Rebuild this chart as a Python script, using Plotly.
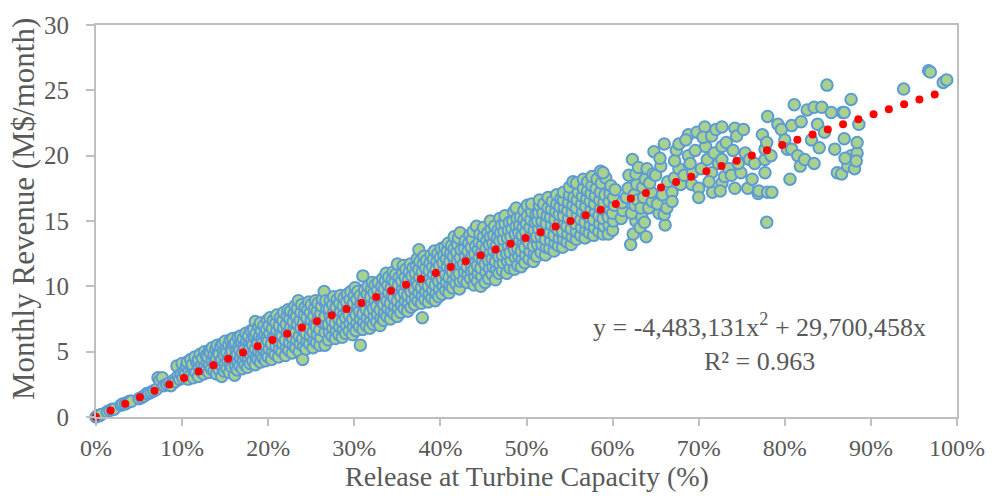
import numpy as np
import plotly.graph_objects as go

# Monthly revenue (M$/month) against release at turbine capacity (%), grouped by capacity range.
points_00_10 = [
    (0.0, 0.0), (0.2, 0.1), (0.4, 0.1), (0.6, 0.2), (1.3, 0.4), (1.6, 0.5), (1.9, 0.6), (2.1, 0.6),
    (2.9, 0.9), (3.1, 1.0), (3.4, 1.0), (3.6, 1.1), (3.9, 1.2), (4.1, 1.2),
    (5.0, 1.4), (5.3, 1.5), (5.6, 1.6), (5.9, 1.8), (6.1, 1.8), (6.4, 1.9), (6.7, 2.0), (7.0, 2.1),
    (7.2, 3.0), (7.4, 2.8), (7.7, 3.0), (7.9, 2.4), (8.2, 2.5), (8.5, 2.6), (8.7, 2.4), (9.0, 2.8),
    (9.2, 2.7), (9.4, 3.9), (9.5, 3.1), (9.7, 2.9), (9.9, 3.3),
]

points_10_20 = [
    (10.1, 3.0), (10.2, 3.6), (10.0, 4.1), (10.4, 3.3), (10.5, 3.9), (10.7, 2.9), (10.8, 3.5), (10.6, 4.2),
    (11.0, 3.2), (11.1, 3.8), (11.0, 4.4), (11.3, 3.0), (11.4, 3.6), (11.2, 4.0), (11.6, 3.4), (11.7, 4.2), (11.5, 4.6),
    (11.9, 3.1), (12.0, 3.8), (11.9, 4.4), (12.2, 3.5), (12.3, 4.0), (12.1, 4.8),
    (12.5, 3.3), (12.6, 3.9), (12.4, 4.5), (12.6, 5.0), (12.8, 3.6), (12.9, 4.2), (12.8, 4.7),
    (13.1, 3.4), (13.2, 4.0), (13.0, 4.6), (13.2, 5.1), (13.4, 3.7), (13.5, 4.3), (13.3, 4.9), (13.5, 5.3),
    (13.7, 3.5), (13.8, 4.1), (13.7, 4.7), (13.9, 5.2), (14.0, 3.3), (14.1, 3.9), (14.0, 4.5), (14.2, 5.0), (14.1, 5.5),
    (14.3, 3.6), (14.4, 4.2), (14.3, 4.8), (14.5, 5.4), (14.6, 3.1), (14.7, 3.8), (14.6, 4.4), (14.8, 5.0), (14.7, 5.6),
    (14.9, 3.5), (15.0, 4.1), (14.9, 4.7), (15.1, 5.3), (15.0, 5.8), (15.2, 3.7), (15.3, 4.3), (15.2, 4.9), (15.4, 5.5),
    (15.5, 3.4), (15.6, 4.0), (15.5, 4.6), (15.7, 5.2), (15.6, 5.9), (15.8, 3.8), (15.9, 4.4), (15.8, 5.0), (16.0, 5.6), (15.9, 6.0),
    (16.1, 3.2), (16.2, 3.9), (16.1, 4.5), (16.3, 5.1), (16.2, 5.7), (16.4, 3.6), (16.5, 4.2), (16.4, 4.8), (16.6, 5.4), (16.5, 6.1),
    (16.7, 3.9), (16.8, 4.5), (16.7, 5.1), (16.9, 5.7), (16.8, 6.2), (17.0, 3.7), (17.1, 4.3), (17.0, 4.9), (17.2, 5.5), (17.1, 6.0),
    (17.3, 4.0), (17.4, 4.6), (17.3, 5.2), (17.5, 5.8), (17.4, 6.4), (17.6, 3.8), (17.7, 4.4), (17.6, 5.0), (17.8, 5.6), (17.7, 6.2),
    (17.9, 4.1), (18.0, 4.7), (17.9, 5.3), (18.1, 5.9), (18.0, 6.6), (18.2, 4.3), (18.3, 4.9), (18.2, 5.5), (18.4, 6.1), (18.3, 6.7),
    (18.5, 4.0), (18.6, 4.6), (18.5, 5.2), (18.7, 5.8), (18.6, 6.4), (18.5, 7.3), (18.8, 4.4), (18.9, 5.0), (18.8, 5.6), (19.0, 6.2), (18.9, 6.9),
    (19.1, 4.2), (19.2, 4.8), (19.1, 5.4), (19.3, 6.0), (19.2, 6.6), (19.1, 7.2), (19.4, 4.5), (19.5, 5.1), (19.4, 5.7), (19.6, 6.3), (19.5, 7.0),
    (19.7, 4.3), (19.8, 4.9), (19.7, 5.5), (19.9, 6.1), (19.8, 6.7), (19.9, 7.4),
]

points_20_30 = [
    (20.0, 4.6), (20.1, 5.2), (20.0, 5.8), (20.2, 6.4), (20.1, 7.0), (20.2, 7.6),
    (20.4, 4.4), (20.5, 5.0), (20.4, 5.6), (20.6, 6.2), (20.5, 6.8), (20.6, 7.4),
    (20.8, 4.8), (20.9, 5.4), (20.8, 6.0), (21.0, 6.6), (20.9, 7.2), (21.0, 7.8),
    (21.2, 4.6), (21.3, 5.2), (21.2, 5.8), (21.4, 6.4), (21.3, 7.0), (21.4, 7.6),
    (21.6, 5.0), (21.7, 5.6), (21.6, 6.2), (21.8, 6.8), (21.7, 7.4), (21.8, 8.0),
    (22.0, 4.7), (22.1, 5.3), (22.0, 5.9), (22.2, 6.5), (22.1, 7.1), (22.2, 7.7), (22.3, 8.2),
    (22.4, 5.1), (22.5, 5.7), (22.4, 6.3), (22.6, 6.9), (22.5, 7.5), (22.6, 8.1),
    (22.8, 4.9), (22.9, 5.5), (22.8, 6.1), (23.0, 6.7), (22.9, 7.3), (23.0, 7.9), (23.1, 8.5),
    (23.2, 5.3), (23.3, 5.9), (23.2, 6.5), (23.4, 7.1), (23.3, 7.7), (23.4, 8.3), (23.5, 8.9),
    (23.6, 5.0), (23.7, 5.6), (23.6, 6.2), (23.8, 6.8), (23.7, 7.4), (23.8, 8.0), (23.9, 8.6),
    (24.0, 4.4), (24.1, 5.4), (24.0, 6.0), (24.2, 6.6), (24.1, 7.2), (24.2, 7.8), (24.3, 8.4),
    (24.4, 5.2), (24.5, 5.8), (24.4, 6.4), (24.6, 7.0), (24.5, 7.6), (24.6, 8.2), (24.7, 8.8),
    (24.8, 5.6), (24.9, 6.2), (24.8, 6.8), (25.0, 7.4), (24.9, 8.0), (25.0, 8.6),
    (25.2, 5.3), (25.3, 5.9), (25.2, 6.5), (25.4, 7.1), (25.3, 7.7), (25.4, 8.3), (25.5, 8.9),
    (25.6, 5.7), (25.7, 6.3), (25.6, 6.9), (25.8, 7.5), (25.7, 8.1), (25.8, 8.7),
    (26.0, 5.5), (26.1, 6.1), (26.0, 6.7), (26.2, 7.3), (26.1, 7.9), (26.2, 8.5), (26.3, 9.0),
    (26.5, 9.6), (26.6, 5.5),
    (26.6, 6.5), (26.7, 7.1), (26.6, 7.7), (26.8, 8.3), (26.7, 8.9),
    (27.0, 5.9), (27.1, 6.5), (27.0, 7.1), (27.2, 7.7), (27.1, 8.3), (27.2, 8.9),
    (27.4, 6.2), (27.5, 6.8), (27.4, 7.4), (27.6, 8.0), (27.5, 8.6), (27.6, 9.2),
    (27.8, 6.0), (27.9, 6.6), (27.8, 7.2), (28.0, 7.8), (27.9, 8.4), (28.0, 9.0),
    (28.2, 6.3), (28.3, 6.9), (28.2, 7.5), (28.4, 8.1), (28.3, 8.7), (28.4, 9.3),
    (28.6, 6.1), (28.7, 6.7), (28.6, 7.3), (28.8, 7.9), (28.7, 8.5), (28.8, 9.1),
    (29.0, 6.4), (29.1, 7.0), (29.0, 7.6), (29.2, 8.2), (29.1, 8.8), (29.2, 9.4),
    (29.4, 6.6), (29.5, 7.2), (29.4, 7.8), (29.6, 8.4), (29.5, 9.0), (29.6, 9.6),
    (29.8, 6.3), (29.9, 6.9), (29.8, 7.5), (30.0, 8.1), (29.9, 8.7), (30.0, 9.3), (30.1, 9.9),
]

points_30_40 = [
    (30.2, 6.6), (30.3, 7.2), (30.2, 7.8), (30.4, 8.4), (30.3, 9.0), (30.4, 9.6),
    (30.7, 5.5), (30.6, 6.9), (30.7, 7.5), (30.6, 8.1), (30.8, 8.7), (30.7, 9.3), (31.0, 10.8),
    (31.0, 6.7), (31.1, 7.3), (31.0, 7.9), (31.2, 8.5), (31.1, 9.1), (31.2, 9.7),
    (31.4, 7.0), (31.5, 7.6), (31.4, 8.2), (31.6, 8.8), (31.5, 9.4), (31.6, 10.0),
    (31.8, 6.8), (31.9, 7.4), (31.8, 8.0), (32.0, 8.6), (31.9, 9.2), (32.0, 9.8), (32.1, 10.3),
    (32.2, 7.1), (32.3, 7.7), (32.2, 8.3), (32.4, 8.9), (32.3, 9.5), (32.4, 10.1),
    (32.6, 7.3), (32.7, 7.9), (32.6, 8.5), (32.8, 9.1), (32.7, 9.7), (32.8, 10.3),
    (33.0, 7.0), (33.1, 7.6), (33.0, 8.2), (33.2, 8.8), (33.1, 9.4), (33.2, 10.0), (33.3, 10.6),
    (33.4, 7.4), (33.5, 8.0), (33.4, 8.6), (33.6, 9.2), (33.5, 9.8), (33.6, 10.4), (33.7, 11.0),
    (33.8, 7.7), (33.9, 8.3), (33.8, 8.9), (34.0, 9.5), (33.9, 10.1), (34.0, 10.7),
    (34.2, 7.5), (34.3, 8.1), (34.2, 8.7), (34.4, 9.3), (34.3, 9.9), (34.4, 10.5), (34.5, 11.1),
    (34.6, 7.9), (34.7, 8.5), (34.6, 9.1), (34.8, 9.7), (34.7, 10.3), (34.8, 10.9),
    (35.0, 7.7), (35.1, 8.3), (35.0, 8.9), (35.2, 9.5), (35.1, 10.1), (35.2, 10.7), (35.0, 11.7),
    (35.4, 8.0), (35.5, 8.6), (35.4, 9.2), (35.6, 9.8), (35.5, 10.4), (35.6, 11.0), (35.7, 11.6),
    (35.8, 8.3), (35.9, 8.9), (35.8, 9.5), (36.0, 10.1), (35.9, 10.7), (36.0, 11.3),
    (36.2, 8.1), (36.3, 8.7), (36.2, 9.3), (36.4, 9.9), (36.3, 10.5), (36.4, 11.1), (36.5, 11.7),
    (36.6, 8.4), (36.7, 9.0), (36.6, 9.6), (36.8, 10.2), (36.7, 10.8), (36.8, 11.4),
    (37.0, 8.6), (37.1, 9.2), (37.0, 9.8), (37.2, 10.4), (37.1, 11.0), (37.2, 11.6), (37.3, 12.1),
    (37.5, 12.8), (37.9, 7.6),
    (37.4, 8.9), (37.5, 9.5), (37.4, 10.1), (37.6, 10.7), (37.5, 11.3), (37.6, 11.9),
    (37.8, 8.7), (37.9, 9.3), (37.8, 9.9), (38.0, 10.5), (37.9, 11.1), (38.0, 11.7), (38.1, 12.3),
    (38.2, 9.0), (38.3, 9.6), (38.2, 10.2), (38.4, 10.8), (38.3, 11.4), (38.4, 12.0),
    (38.6, 8.8), (38.7, 9.4), (38.6, 10.0), (38.8, 10.6), (38.7, 11.2), (38.8, 11.8), (38.9, 12.4),
    (39.0, 9.1), (39.1, 9.7), (39.0, 10.3), (39.2, 10.9), (39.1, 11.5), (39.2, 12.1), (39.3, 12.7),
    (39.4, 8.9), (39.5, 9.5), (39.4, 10.1), (39.6, 10.7), (39.5, 11.3), (39.6, 11.9), (39.7, 12.5),
    (39.8, 9.2), (39.9, 9.8), (39.8, 10.4), (40.0, 11.0), (39.9, 11.6), (40.0, 12.2), (40.1, 12.9),
]

points_40_50 = [
    (40.2, 9.4), (40.3, 10.0), (40.2, 10.6), (40.4, 11.2), (40.3, 11.8), (40.4, 12.4), (40.5, 13.0),
    (40.6, 9.7), (40.7, 10.3), (40.6, 10.9), (40.8, 11.5), (40.7, 12.1), (40.8, 12.7), (40.9, 13.3),
    (41.0, 9.5), (41.1, 10.1), (41.0, 10.7), (41.2, 11.3), (41.1, 11.9), (41.2, 12.5), (41.3, 13.1),
    (41.4, 9.9), (41.5, 10.5), (41.4, 11.1), (41.6, 11.7), (41.5, 12.3), (41.6, 12.9), (41.6, 13.8),
    (41.8, 10.2), (41.9, 10.8), (41.8, 11.4), (42.0, 12.0), (41.9, 12.6), (42.0, 13.2), (42.1, 13.7),
    (42.2, 9.8), (42.3, 10.4), (42.2, 11.0), (42.4, 11.6), (42.3, 12.2), (42.4, 12.8), (42.3, 14.1),
    (42.7, 10.5), (42.8, 11.1), (42.7, 11.7), (42.9, 12.3), (42.8, 12.9), (42.9, 13.5),
    (43.1, 10.3), (43.2, 10.9), (43.1, 11.5), (43.3, 12.1), (43.2, 12.7), (43.3, 13.3), (43.4, 13.9),
    (43.5, 10.6), (43.6, 11.2), (43.5, 11.8), (43.7, 12.4), (43.6, 13.0), (43.7, 13.6), (43.8, 14.2),
    (43.9, 10.1), (44.0, 10.7), (43.9, 11.3), (44.1, 11.9), (44.0, 12.5), (44.1, 13.1), (44.2, 14.6),
    (44.3, 10.4), (44.4, 11.0), (44.3, 11.6), (44.5, 12.2), (44.4, 12.8), (44.5, 13.4), (44.6, 14.0),
    (44.7, 10.0), (44.8, 10.8), (44.7, 11.4), (44.9, 12.0), (44.8, 12.6), (44.9, 13.2), (45.0, 13.8), (45.0, 14.5),
    (45.2, 10.3), (45.3, 11.1), (45.2, 11.7), (45.4, 12.3), (45.3, 12.9), (45.4, 13.5), (45.5, 14.1),
    (45.6, 10.6), (45.7, 11.4), (45.6, 12.0), (45.8, 12.6), (45.7, 13.2), (45.8, 13.8), (45.9, 14.4), (45.8, 15.0),
    (46.0, 10.9), (46.1, 11.5), (46.0, 12.1), (46.2, 12.7), (46.1, 13.3), (46.2, 13.9), (46.3, 14.6),
    (46.4, 10.5), (46.5, 11.3), (46.4, 11.9), (46.6, 12.5), (46.5, 13.1), (46.6, 13.7), (46.7, 14.3), (46.9, 15.2),
    (46.8, 11.0), (46.9, 11.7), (46.8, 12.3), (47.0, 12.9), (46.9, 13.5), (47.0, 14.1), (47.1, 14.7),
    (47.2, 11.2), (47.3, 11.8), (47.2, 12.4), (47.4, 13.0), (47.3, 13.6), (47.4, 14.2), (47.5, 14.8), (47.5, 15.4),
    (47.7, 11.0), (47.8, 11.9), (47.7, 12.5), (47.9, 13.1), (47.8, 13.7), (47.9, 14.3), (48.0, 14.9),
    (48.1, 11.4), (48.2, 12.0), (48.1, 12.6), (48.3, 13.2), (48.2, 13.8), (48.3, 14.4), (48.4, 15.0), (48.5, 15.7),
    (48.6, 11.3), (48.7, 12.2), (48.6, 12.8), (48.8, 13.4), (48.7, 14.0), (48.8, 14.6), (48.9, 15.2), (48.8, 16.0),
    (49.0, 11.6), (49.1, 12.3), (49.0, 12.9), (49.2, 13.5), (49.1, 14.1), (49.2, 14.7), (49.3, 15.3),
    (49.4, 11.5), (49.5, 12.1), (49.4, 12.7), (49.6, 13.3), (49.5, 13.9), (49.6, 14.5), (49.7, 15.1), (49.7, 15.8),
    (49.8, 11.8), (49.9, 12.4), (49.8, 13.0), (50.0, 13.6), (49.9, 14.2), (50.0, 14.8), (50.1, 15.4), (50.1, 16.2),
]

points_50_60 = [
    (50.3, 12.1), (50.4, 12.7), (50.3, 13.3), (50.5, 13.9), (50.4, 14.5), (50.5, 15.1), (50.6, 15.7), (50.6, 16.3),
    (50.8, 11.9), (50.9, 12.5), (50.8, 13.1), (51.0, 13.7), (50.9, 14.3), (51.0, 14.9), (51.1, 15.5),
    (51.2, 12.3), (51.3, 13.2), (51.2, 13.8), (51.4, 14.4), (51.3, 15.0), (51.4, 15.6), (51.5, 16.2), (51.5, 16.6),
    (51.7, 12.6), (51.8, 13.2), (51.7, 13.8), (51.9, 14.4), (51.8, 15.0), (51.9, 15.6), (52.0, 16.3),
    (52.2, 12.4), (52.3, 13.0), (52.2, 13.6), (52.4, 14.2), (52.3, 14.8), (52.4, 15.4), (52.5, 16.0), (52.5, 16.8),
    (52.7, 12.9), (52.8, 13.5), (52.7, 14.1), (52.9, 14.7), (52.8, 15.3), (52.9, 15.9), (53.0, 16.5),
    (53.2, 12.7), (53.3, 13.3), (53.2, 13.9), (53.4, 14.5), (53.3, 15.1), (53.4, 15.7), (53.5, 16.3), (53.5, 17.0),
    (53.7, 13.1), (53.8, 13.7), (53.7, 14.3), (53.9, 14.9), (53.8, 15.5), (53.9, 16.1), (54.0, 16.7),
    (54.2, 13.0), (54.3, 13.6), (54.2, 14.2), (54.4, 14.8), (54.3, 15.4), (54.4, 16.0), (54.3, 16.6), (54.3, 17.2),
    (54.7, 13.4), (54.8, 14.0), (54.7, 14.6), (54.9, 15.2), (54.8, 15.8), (54.9, 16.4), (55.0, 17.0), (55.0, 17.6),
    (55.2, 13.2), (55.3, 13.8), (55.2, 14.4), (55.4, 15.0), (55.3, 15.6), (55.4, 16.2), (55.5, 16.8), (55.4, 18.0),
    (55.8, 13.6), (55.8, 14.2), (55.7, 14.8), (55.9, 15.4), (55.8, 16.0), (55.9, 16.6), (56.0, 17.2), (55.8, 17.9),
    (56.3, 13.9), (56.4, 14.5), (56.3, 15.1), (56.5, 15.7), (56.4, 16.3), (56.5, 16.9), (56.6, 17.5), (56.6, 18.2),
    (56.8, 13.7), (56.9, 14.3), (56.8, 14.9), (57.0, 15.5), (56.9, 16.1), (57.0, 16.7), (57.1, 17.3), (57.1, 18.0),
    (57.3, 14.1), (57.4, 14.7), (57.3, 15.3), (57.5, 15.9), (57.4, 16.5), (57.5, 17.1), (57.6, 17.7), (57.6, 18.4),
    (57.8, 13.9), (57.9, 14.5), (57.8, 15.1), (58.0, 15.7), (57.9, 16.3), (58.0, 16.9), (58.1, 17.5), (58.2, 18.2),
    (58.4, 14.2), (58.5, 14.8), (58.4, 15.4), (58.6, 16.0), (58.5, 16.6), (58.6, 17.2), (58.6, 18.8), (58.7, 17.9),
    (58.9, 14.0), (59.0, 14.6), (58.9, 15.2), (59.1, 15.8), (59.0, 16.4), (59.1, 17.0), (59.2, 18.3), (58.9, 18.7),
    (59.5, 14.0), (59.6, 14.7), (59.5, 15.3), (59.7, 15.9), (59.6, 16.5), (59.7, 17.1), (59.8, 17.7),
    (60.0, 14.3), (60.1, 15.0), (60.0, 15.6), (60.2, 16.2), (60.1, 16.8), (60.3, 17.4),
]

points_60_73 = [
    (61.0, 15.2), (61.2, 15.8), (61.1, 16.4),
    (61.6, 16.8), (61.9, 18.5), (62.3, 19.7), (61.8, 17.5), (62.1, 13.2), (62.4, 14.0), (62.7, 15.0),
    (62.2, 15.6), (62.6, 16.2), (62.5, 17.0), (62.8, 17.8), (62.7, 18.6), (63.0, 19.1), (62.9, 16.6),
    (63.2, 14.5), (63.4, 15.3), (63.3, 16.0), (63.6, 16.8), (63.5, 17.6), (63.9, 13.8), (63.8, 18.2),
    (64.0, 19.0), (63.7, 14.9),
    (64.2, 16.0), (64.6, 16.5), (64.5, 17.2), (64.3, 17.9), (64.8, 20.3), (64.7, 18.6), (65.0, 18.5),
    (65.4, 15.6), (65.2, 16.3), (65.8, 17.0), (65.6, 19.2), (65.5, 19.8), (66.1, 14.7), (66.0, 15.5),
    (66.0, 20.9), (66.4, 18.0), (66.3, 16.0),
    (66.9, 17.2), (66.9, 16.5), (67.2, 18.3), (67.7, 19.0), (67.4, 20.4), (67.7, 20.9), (67.2, 19.6), (67.9, 17.8),
    (68.3, 18.5), (68.8, 20.0), (68.8, 21.6), (68.5, 21.2), (69.3, 18.7), (69.2, 17.8), (69.0, 19.4),
    (69.6, 20.4), (69.8, 21.8),
    (70.0, 17.5), (70.0, 16.8), (70.3, 19.0), (70.8, 20.7), (70.7, 22.2), (70.5, 21.4), (71.0, 19.7),
    (71.5, 18.7), (71.6, 17.2), (71.5, 21.5), (71.8, 20.2), (72.0, 22.0), (71.2, 18.0),
    (72.3, 19.4), (72.7, 17.9), (72.7, 19.7), (72.7, 22.2), (72.7, 20.7), (72.5, 17.3), (73.0, 18.4), (73.2, 21.0),
]

points_73_100 = [
    (73.5, 19.0), (73.8, 18.5), (74.2, 17.5), (74.2, 22.1), (74.4, 21.5), (74.0, 20.4), (74.9, 18.7),
    (74.6, 19.4), (75.4, 20.2), (75.7, 17.5), (75.2, 22.0), (75.9, 19.7),
    (76.5, 19.4), (76.2, 18.2), (76.9, 17.1), (77.4, 21.6), (77.7, 19.7), (77.7, 20.5), (77.7, 18.7),
    (77.0, 17.3), (78.0, 17.2), (78.5, 17.2), (77.9, 14.9), (78.0, 23.0), (77.9, 21.0), (78.4, 20.0),
    (79.2, 22.4), (79.6, 22.0), (80.0, 21.2), (80.3, 20.5), (80.6, 18.2), (80.8, 20.5), (81.1, 23.9),
    (80.8, 22.3), (81.5, 20.0), (81.9, 22.6), (81.8, 19.2),
    (82.3, 19.7), (82.6, 23.5), (83.1, 21.2), (83.4, 19.4), (83.4, 23.7), (83.8, 22.4), (84.3, 23.7),
    (84.9, 25.4), (84.0, 20.6), (84.6, 21.8),
    (85.4, 23.3), (85.8, 20.5), (86.1, 18.7), (86.6, 18.6), (86.7, 23.3), (86.9, 21.3), (86.9, 23.3),
    (87.3, 19.2), (87.7, 20.0), (87.7, 24.3), (87.0, 19.8),
    (88.1, 19.0), (88.4, 20.2), (88.4, 21.0), (88.6, 22.4), (88.3, 19.6),
    (93.8, 25.1), (96.7, 26.5), (96.9, 26.4), (98.4, 25.6), (98.8, 25.8),
]

# Polynomial trendline (revenue in $ against release fraction), as reported on the chart
TREND_A2 = -4483131
TREND_A1 = 29700458
TREND_R2 = 0.963

X_TICKS = [i / 10 for i in range(11)]
Y_TICKS = [0, 5, 10, 15, 20, 25, 30]

all_points = (points_00_10 + points_10_20 + points_20_30 + points_30_40
              + points_40_50 + points_50_60 + points_60_73 + points_73_100)
release = np.array([p[0] for p in all_points]) / 100.0
revenue = np.array([p[1] for p in all_points])

W, H = 997, 497
M_L, M_R, M_T, M_B = 96, 34, 16, 80
PLOT_W = W - M_L - M_R
PLOT_H = H - M_T - M_B
Y_MAX = 30


def trend(frac):
    return (TREND_A2 * frac ** 2 + TREND_A1 * frac) / 1e6


# Round-dot trendline: dots placed at equal on-screen spacing along the fitted curve
DOT_GAP = 16.2
fx = np.linspace(0, release.max(), 5000)
fy = trend(fx)
sx = fx * PLOT_W
sy = fy / Y_MAX * PLOT_H
arc = np.concatenate([[0.0], np.cumsum(np.hypot(np.diff(sx), np.diff(sy)))])
dot_x = np.interp(np.arange(0, arc[-1], DOT_GAP), arc, fx)
dot_y = trend(dot_x)

GRAY = "#595959"
AXIS = "#BFBFBF"
FONT = "Liberation Serif, Times New Roman, serif"

fig = go.Figure()
fig.add_trace(go.Scatter(
    x=release, y=revenue, mode="markers", cliponaxis=False,
    marker=dict(size=11.5, color="#A9D18E", line=dict(color="#5B9BD5", width=2)),
    showlegend=False, hoverinfo="skip",
))
fig.add_trace(go.Scatter(
    x=dot_x, y=dot_y, mode="markers", cliponaxis=False,
    marker=dict(size=8, color="#FF0000", line=dict(width=0)),
    showlegend=False, hoverinfo="skip",
))

# Trendline equation and fit quality
fig.add_annotation(
    x=0.771, y=0.19, xref="paper", yref="paper", xanchor="center", yanchor="middle",
    text=("y = -{:,}x<sup>2</sup> + {:,}x<br>R² = {:.3f}".format(-TREND_A2, TREND_A1, TREND_R2)),
    showarrow=False, align="center", font=dict(family=FONT, size=26, color=GRAY),
)

# Axis titles
fig.add_annotation(
    x=0.5, y=-0.153, xref="paper", yref="paper", xanchor="center", yanchor="middle",
    text="Release at Turbine Capacity (%)", showarrow=False,
    font=dict(family=FONT, size=28, color=GRAY),
)
fig.add_annotation(
    x=-0.085, y=0.53, xref="paper", yref="paper", xanchor="center", yanchor="middle",
    text="Monthly Revenue (M$/month)", showarrow=False, textangle=-90,
    font=dict(family=FONT, size=31, color=GRAY),
)

fig.update_layout(
    width=W, height=H,
    margin=dict(l=M_L, r=M_R, t=M_T, b=M_B),
    paper_bgcolor="white", plot_bgcolor="white",
    font=dict(family=FONT, size=25, color=GRAY),
    xaxis=dict(
        range=[0, 1], tickvals=X_TICKS, tickformat=".0%",
        showline=True, linecolor=AXIS, linewidth=2, mirror=True,
        ticks="outside", ticklen=7, tickwidth=2, tickcolor=AXIS,
        showgrid=False, zeroline=False, ticklabelstandoff=1,
        tickfont=dict(size=24),
    ),
    yaxis=dict(
        range=[0, Y_MAX], tickvals=Y_TICKS,
        showline=True, linecolor=AXIS, linewidth=2, mirror=True,
        ticks="outside", ticklen=8, tickwidth=2, tickcolor=AXIS,
        showgrid=False, zeroline=False, ticklabelstandoff=12,
    ),
)

fig.write_html("out.html")
